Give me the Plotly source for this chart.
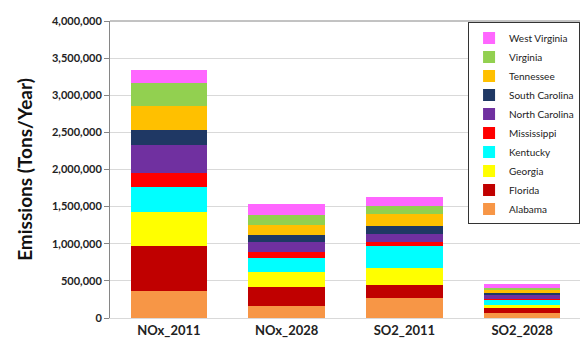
import plotly.graph_objects as go

# categories on the x axis
categories = ["NOx_2011", "NOx_2028", "SO2_2011", "SO2_2028"]

# emissions by state (tons/year)
alabama = [363000, 158000, 276000, 66000]
florida = [611000, 263000, 171000, 70000]
georgia = [451000, 197000, 228000, 39000]
kentucky = [338000, 185000, 289000, 75000]
mississippi = [188000, 88000, 62000, 10000]
north_carolina = [373000, 131000, 110000, 50000]
south_carolina = [206000, 100000, 105000, 40000]
tennessee = [329000, 137000, 154000, 25000]
virginia = [312000, 132000, 114000, 28000]
west_virginia = [171000, 139000, 123000, 57000]

series = [
    ("Alabama", alabama, "#F79646"),
    ("Florida", florida, "#C00000"),
    ("Georgia", georgia, "#FFFF00"),
    ("Kentucky", kentucky, "#00FFFF"),
    ("Mississippi", mississippi, "#FF0000"),
    ("North Carolina", north_carolina, "#7030A0"),
    ("South Carolina", south_carolina, "#1F3864"),
    ("Tennessee", tennessee, "#FFC000"),
    ("Virginia", virginia, "#92D050"),
    ("West Virginia", west_virginia, "#FF66FF"),
]

FONT = "Lato"

fig = go.Figure()
for name, vals, col in series:
    fig.add_trace(go.Bar(x=categories, y=vals, name=name, marker_color=col,
                         marker_line_width=0))

# page body has an 8px margin, so the figure is sized/offset for that
fig.update_layout(
    barmode="stack",
    bargap=0.35,
    width=580, height=339,
    margin=dict(l=102, r=7, t=6, b=29),
    paper_bgcolor="white", plot_bgcolor="white",
    font=dict(family=FONT, color="#222222"),
    legend=dict(
        traceorder="reversed",
        x=0.998, y=0.995, xanchor="right", yanchor="top",
        bgcolor="white", bordercolor="#333333", borderwidth=1,
        font=dict(size=10, family=FONT, color="#222222"),
        tracegroupgap=0, itemwidth=30,
    ),
    showlegend=True,
)

fig.update_yaxes(
    range=[0, 4000000], dtick=500000, tickformat=",d",
    showgrid=True, gridcolor="#D9D9D9", gridwidth=1,
    showline=True, linecolor="#868686", linewidth=1, mirror=True,
    ticks="outside", ticklen=5, tickcolor="#868686",
    ticklabeloverflow="allow",
    tickfont=dict(size=11, family=FONT, color="#222222", weight="bold"),
    title=dict(text="<b>Emissions (Tons/Year)</b>", font=dict(size=19, family=FONT, color="#111111"),
               standoff=14),
    zeroline=False,
)
fig.update_xaxes(
    showline=True, linecolor="#D9D9D9", linewidth=1,
    tickfont=dict(size=13, family=FONT, color="#222222", weight="bold"),
    ticks="",
)

# dark frame line along the top of the plot area
fig.add_shape(type="line", xref="paper", yref="paper", x0=0, x1=1, y0=1, y1=1,
              line=dict(color="#868686", width=1))

fig.write_html("out.html")
